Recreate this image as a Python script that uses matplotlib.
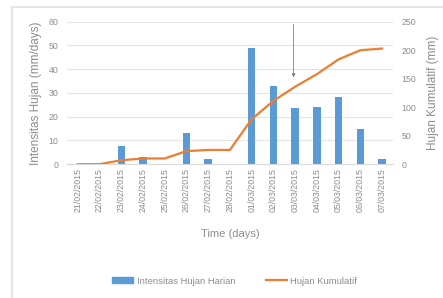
import matplotlib

matplotlib.use("Agg")
from matplotlib import pyplot as plt
from matplotlib.lines import Line2D

# Daily rainfall intensity and cumulative rainfall
dates = [
    "21/02/2015", "22/02/2015", "23/02/2015", "24/02/2015", "25/02/2015",
    "26/02/2015", "27/02/2015", "28/02/2015", "01/03/2015", "02/03/2015",
    "03/03/2015", "04/03/2015", "05/03/2015", "06/03/2015", "07/03/2015",
]
daily_mm = [0, 0, 7.5, 3, 0, 13, 2, 0, 49, 33, 23.5, 24, 28.5, 15, 2]
cumulative_mm = [0, 0, 7, 10, 10, 23, 25, 25, 79, 111, 136, 158, 184, 200, 203]
left_ticks = [0, 10, 20, 30, 40, 50, 60]
right_ticks = [0, 50, 100, 150, 200, 250]
arrow_date = "03/03/2015"

BLUE = "#5B9BD5"
ORANGE = "#ED7D31"
TEXT = "#8c8c8c"
GRID = "#e4e4e4"

plt.rcParams["font.family"] = ["Liberation Sans", "DejaVu Sans"]

fig, ax = plt.subplots(figsize=(4.43, 2.98), dpi=100)
fig.subplots_adjust(left=0.151, right=0.887, top=0.927, bottom=0.449)

x = list(range(len(dates)))
ax.bar(x, daily_mm, width=0.34, color=BLUE, zorder=2)
ax.set_ylim(0, 60)
ax.set_xlim(-0.5, len(dates) - 0.5)
ax.set_yticks(left_ticks)
ax.set_xticks(x)
ax.set_xticklabels(dates, rotation=90, fontsize=6.3, color=TEXT)
ax.tick_params(axis="y", labelsize=6.3, colors=TEXT, length=0, pad=6)
ax.tick_params(axis="x", length=0, pad=3)
ax.yaxis.grid(True, color=GRID, linewidth=0.8, zorder=0)
ax.set_axisbelow(True)
for side in ("top", "left", "right"):
    ax.spines[side].set_visible(False)
ax.spines["bottom"].set_color("#d9d9d9")
ax.set_ylabel("Intensitas Hujan (mm/days)", fontsize=8.5, color=TEXT, labelpad=5)
ax.set_xlabel("Time (days)", fontsize=8, color=TEXT, labelpad=12)

ax2 = ax.twinx()
ax2.plot(x, cumulative_mm, color=ORANGE, linewidth=1.6, zorder=3)
ax2.set_ylim(0, 250)
ax2.set_yticks(right_ticks)
ax2.tick_params(axis="y", labelsize=6.3, colors=TEXT, length=0, pad=6)
for side in ("top", "left", "right", "bottom"):
    ax2.spines[side].set_visible(False)
ax2.set_ylabel("Hujan Kumulatif (mm)", fontsize=8.5, color=TEXT, rotation=90, labelpad=8)

# pointer arrow down towards the curve
ai = dates.index(arrow_date) - 0.07
ax2.annotate(
    "", xy=(ai, 0.59), xytext=(ai, 1.0),
    xycoords=("data", "axes fraction"), textcoords=("data", "axes fraction"),
    arrowprops=dict(arrowstyle="-|>", color="#7f7f7f", lw=0.6, mutation_scale=5),
)

handles = [
    plt.Rectangle((0, 0), 1, 1, color=BLUE),
    Line2D([0], [0], color=ORANGE, linewidth=1.6),
]
fig.legend(
    handles, ["Intensitas Hujan Harian", "Hujan Kumulatif"],
    loc="center", bbox_to_anchor=(0.53, 0.057), ncol=2, frameon=False,
    fontsize=6.8, labelcolor=TEXT, handlelength=2.2, handleheight=0.6,
    columnspacing=3.2, handletextpad=0.4,
)

# faint chart-area frame on the top and left
fig.add_artist(Line2D([0.027, 0.027], [0.0, 0.977], color="#e6e6e6", linewidth=1.5))
fig.add_artist(Line2D([0.027, 1.0], [0.977, 0.977], color="#e6e6e6", linewidth=1.5))

fig.savefig("out.png", dpi=100)
